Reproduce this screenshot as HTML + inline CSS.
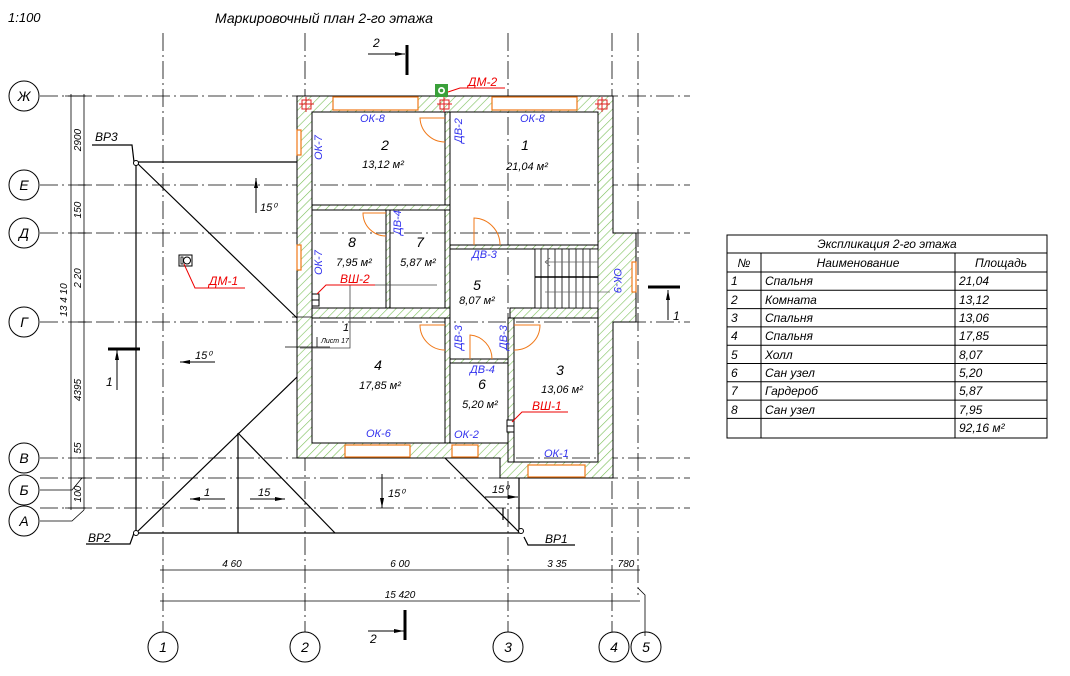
<!DOCTYPE html>
<html><head><meta charset="utf-8"><style>
body{margin:0;background:#fff}
svg{display:block}
text{font-family:"Liberation Sans",sans-serif;font-style:italic}
</style></head><body>
<svg width="1070" height="676" viewBox="0 0 1070 676" xmlns="http://www.w3.org/2000/svg">
<defs>
<pattern id="h" width="6" height="6" patternUnits="userSpaceOnUse" patternTransform="rotate(45)">
<rect width="6" height="6" fill="#fff"/><line x1="0" y1="0" x2="0" y2="6" stroke="#7cc05a" stroke-width="1.2"/></pattern>
<marker id="ar" markerWidth="10" markerHeight="6" refX="10" refY="3" orient="auto" markerUnits="userSpaceOnUse"><path d="M0,1 L10,3 L0,5z" fill="#000"/></marker>
</defs>
<text x="8" y="22" font-size="13">1:100</text>
<text x="215" y="23" font-size="14">Маркировочный план 2-го этажа</text>

<!-- grid lines -->
<g stroke="#000" stroke-width="0.8" stroke-dasharray="18,4,2,4" fill="none">
<line x1="163" y1="33" x2="163" y2="636"/><line x1="305" y1="33" x2="305" y2="636"/>
<line x1="508" y1="33" x2="508" y2="636"/><line x1="612" y1="33" x2="612" y2="636"/>
<line x1="638" y1="33" x2="638" y2="595"/>
<line x1="40" y1="96" x2="690" y2="96"/><line x1="40" y1="185" x2="690" y2="185"/>
<line x1="40" y1="233" x2="690" y2="233"/><line x1="40" y1="322" x2="690" y2="322"/>
<line x1="40" y1="458" x2="690" y2="458"/><line x1="40" y1="478" x2="690" y2="478"/>
<line x1="40" y1="508" x2="690" y2="508"/>
</g>
<!-- bubbles -->
<g fill="#fff" stroke="#000" stroke-width="1">
<circle cx="24" cy="96" r="15"/><circle cx="24" cy="185" r="15"/><circle cx="24" cy="233" r="15"/>
<circle cx="24" cy="322" r="15"/><circle cx="24" cy="458" r="15"/><circle cx="24" cy="490" r="15"/>
<circle cx="24" cy="521" r="15"/>
<circle cx="163" cy="647" r="15"/><circle cx="305" cy="647" r="15"/><circle cx="508" cy="647" r="15"/>
<circle cx="614" cy="647" r="15"/><circle cx="646" cy="647" r="15"/>
</g>
<g font-size="14" text-anchor="middle">
<text x="24" y="101">Ж</text><text x="24" y="190">Е</text><text x="24" y="238">Д</text><text x="24" y="327">Г</text>
<text x="24" y="463">В</text><text x="24" y="495">Б</text><text x="24" y="526">А</text>
<text x="163" y="652">1</text><text x="305" y="652">2</text><text x="508" y="652">3</text><text x="614" y="652">4</text><text x="646" y="652">5</text>
</g>
<g stroke="#000" stroke-width="0.8" fill="none">
<path d="M40,490 L72,490 L82,478"/><path d="M40,521 L72,521 L84,510"/>
<line x1="71" y1="94" x2="71" y2="510"/><line x1="84" y1="94" x2="84" y2="510"/>
<line x1="65" y1="96" x2="90" y2="96"/><line x1="78" y1="185" x2="90" y2="185"/><line x1="78" y1="233" x2="90" y2="233"/>
<line x1="78" y1="322" x2="90" y2="322"/><line x1="78" y1="458" x2="90" y2="458"/><line x1="78" y1="478" x2="90" y2="478"/><line x1="65" y1="508" x2="90" y2="508"/>
<!-- bottom dims -->
<line x1="160" y1="570" x2="640" y2="570"/><line x1="160" y1="601" x2="640" y2="601"/>
<path d="M638,588 L645,595 L645,636"/>
</g>
<g font-size="10" text-anchor="middle">
<text transform="translate(81,140) rotate(-90)">2900</text>
<text transform="translate(81,210) rotate(-90)">150</text>
<text transform="translate(81,278) rotate(-90)">2 20</text>
<text transform="translate(67,300) rotate(-90)">13 4 10</text>
<text transform="translate(81,390) rotate(-90)">4395</text>
<text transform="translate(81,448) rotate(-90)">55</text>
<text transform="translate(81,494) rotate(-90)">100</text>
<text x="232" y="567">4 60</text><text x="400" y="567">6 00</text><text x="557" y="567">3 35</text><text x="626" y="567">780</text>
<text x="400" y="598">15 420</text>
</g>

<!-- roof -->
<g stroke="#000" stroke-width="1.2" fill="none">
<path d="M136,162 L297,162"/><path d="M136,162 L136,533 L520,533"/>
<path d="M136,162 L297,318"/><path d="M136,533 L297,377"/>
<path d="M238,433 L238,533"/><path d="M238,433 L335,533"/><path d="M445,458 L520,533"/>
<path d="M519,478 L519,533"/><path d="M503,508 L503,520"/>
<path d="M92,145 L132,145 L134,162"/><path d="M86,544 L130,544 L134,533"/>
<path d="M524,537 L528,545 L575,545"/>
</g>
<circle cx="136" cy="163" r="2.5" fill="#fff" stroke="#000"/><circle cx="136" cy="533" r="2.5" fill="#fff" stroke="#000"/><circle cx="521" cy="531" r="2.5" fill="#fff" stroke="#000"/>
<g font-size="12"><text x="95" y="141">ВР3</text><text x="88" y="542">ВР2</text><text x="545" y="543">ВР1</text></g>
<!-- slope arrows -->
<g stroke="#000" stroke-width="1" fill="none" marker-end="url(#ar)">
<line x1="256" y1="213" x2="256" y2="178"/>
<line x1="215" y1="362" x2="180" y2="362"/>
<line x1="225" y1="499" x2="190" y2="499"/>
<line x1="250" y1="499" x2="285" y2="499"/>
<line x1="382" y1="474" x2="382" y2="508"/>
<line x1="485" y1="497" x2="518" y2="497"/>
<line x1="117" y1="390" x2="117" y2="350"/>
<line x1="368" y1="54" x2="405" y2="54"/>
<line x1="368" y1="631" x2="404" y2="631"/>
<line x1="668" y1="320" x2="668" y2="290"/>
</g>
<g stroke="#000" stroke-width="3">
<line x1="108" y1="349" x2="140" y2="349"/><line x1="407" y1="45" x2="407" y2="75"/>
<line x1="405" y1="610" x2="405" y2="640"/><line x1="648" y1="287" x2="680" y2="287"/>
</g>
<g font-size="11"><text x="260" y="211">15⁰</text><text x="195" y="359">15⁰</text><text x="204" y="496">1</text><text x="258" y="496">15</text>
<text x="388" y="497">15⁰</text><text x="492" y="493">15⁰</text></g>
<g font-size="12"><text x="106" y="386">1</text><text x="373" y="47">2</text><text x="370" y="643">2</text><text x="673" y="320">1</text></g>
<rect x="179" y="255" width="13" height="11" fill="#fff" stroke="#000"/><circle cx="187" cy="260.5" r="3.5" fill="none" stroke="#000"/><rect x="181" y="257" width="2" height="7" fill="none" stroke="#000" stroke-width="0.8"/>

<!-- building walls -->
<g stroke="#000" stroke-width="1">
<path fill="url(#h)" fill-rule="evenodd" d="M297,96 L613,96 L613,233 L636,233 L636,322 L613,322 L613,478 L500,478 L500,458 L297,458 Z
M312,112 L598,112 L598,249 L535,249 L535,308 L598,308 L598,462 L514,462 L514,443 L312,443 Z"/>
<!-- interior walls -->
<rect x="445" y="112" width="5" height="98" fill="url(#h)"/>
<rect x="312" y="205" width="138" height="5" fill="url(#h)"/>
<rect x="386" y="210" width="4" height="98" fill="url(#h)"/>
<rect x="445" y="210" width="5" height="100" fill="url(#h)"/>
<rect x="450" y="245" width="148" height="4" fill="url(#h)"/>
<rect x="312" y="308" width="138" height="10" fill="url(#h)"/>
<rect x="510" y="308" width="88" height="10" fill="url(#h)"/>
<rect x="445" y="318" width="5" height="125" fill="url(#h)"/>
<rect x="450" y="359" width="60" height="4" fill="url(#h)"/>
<rect x="508" y="318" width="6" height="144" fill="url(#h)"/>
</g>
<!-- stairs -->
<g stroke="#000" stroke-width="0.8" fill="none">
<rect x="535" y="249" width="63" height="59" fill="#fff"/>
<line x1="535" y1="277" x2="598" y2="277" stroke-width="1.5"/>
<path d="M541,249 V308 M548,249 V277 M555,249 V277 M562,249 V277 M569,249 V277 M576,249 V277 M583,249 V277 M590,249 V277 M548,277 V308 M555,277 V308 M562,277 V308 M569,277 V308 M576,277 V308 M583,277 V308 M590,277 V308"/>
<path d="M545,262 H598 M545,262 L550,258 M545,262 L550,266" stroke="#666"/>
<path d="M545,292 H610" stroke="#666"/>
<path d="M350,285 L350,348 L300,348 M350,285 L437,285" stroke="#444"/>
<path d="M292,317 L312,317 M285,347 L330,347 M317,337 L317,347"/>
</g>
<!-- windows -->
<g fill="#fff" stroke="#f07818" stroke-width="1.2">
<rect x="333" y="97" width="85" height="13"/><rect x="492" y="97" width="85" height="13"/>
<rect x="297" y="130" width="4" height="25"/><rect x="297" y="245" width="4" height="25"/>
<rect x="345" y="445" width="65" height="12"/><rect x="452" y="445" width="26" height="12"/>
<rect x="528" y="465" width="57" height="12"/><rect x="632" y="262" width="4" height="30"/>
</g>
<!-- columns -->
<g stroke="#e02020" stroke-width="1" fill="none">
<rect x="302" y="100" width="9" height="9"/><path d="M306,97 V112 M299,104 H314"/>
<rect x="440" y="100" width="9" height="9"/><path d="M444,97 V112 M437,104 H452"/>
<rect x="598" y="100" width="9" height="9"/><path d="M602,97 V112 M595,104 H610"/>
</g>
<!-- doors -->
<g stroke="#f07818" stroke-width="1" fill="none">
<path d="M445,142 L420,118 A32,32 0 0 1 445,142 Z" stroke="none"/>
<path d="M445,118 L420,118 A25,25 0 0 0 445,142"/>
<path d="M386,213 L363,213 A23,23 0 0 0 386,236"/>
<path d="M474,245 L474,218 A27,27 0 0 1 500,245"/>
<path d="M445,325 L420,325 A25,25 0 0 0 445,350"/>
<path d="M470,359 L470,335 A24,24 0 0 1 492,359"/>
<path d="M514,325 L540,325 A25,25 0 0 1 514,350"/>
</g>
<!-- specials -->
<rect x="312" y="294" width="7" height="12" fill="#fff" stroke="#000"/><line x1="312" y1="300" x2="319" y2="300" stroke="#000"/>
<rect x="507" y="420" width="7" height="12" fill="#fff" stroke="#000"/><line x1="507" y1="426" x2="514" y2="426" stroke="#000"/>
<rect x="435" y="84" width="13" height="13" fill="#3aa03a"/><circle cx="441.5" cy="90.5" r="3.5" fill="#fff"/><circle cx="441.5" cy="90.5" r="1.8" fill="#3aa03a"/>
<g stroke="#e00" stroke-width="1" fill="none">
<path d="M317,294 L326,285 L375,285"/><path d="M512,422 L522,412 L568,412"/>
<path d="M184,264 L195,288 L245,288"/><path d="M448,92 L460,88 L505,88"/>
</g>
<g fill="#e00" font-size="12"><text x="340" y="283">ВШ-2</text><text x="532" y="410">ВШ-1</text><text x="209" y="285">ДМ-1</text><text x="468" y="86">ДМ-2</text></g>
<!-- blue labels -->
<g fill="#3333ee" font-size="11">
<text x="360" y="122">ОК-8</text><text x="520" y="122">ОК-8</text>
<text transform="translate(322,160) rotate(-90)">ОК-7</text><text transform="translate(322,275) rotate(-90)">ОК-7</text>
<text transform="translate(462,143) rotate(-90)">ДВ-2</text><text transform="translate(401,235) rotate(-90)">ДВ-4</text>
<text x="472" y="258">ДВ-3</text><text transform="translate(462,350) rotate(-90)">ДВ-3</text>
<text x="470" y="373">ДВ-4</text><text transform="translate(507,350) rotate(-90)">ДВ-3</text>
<text transform="translate(614,268) rotate(90)">ОК-9</text>
<text x="366" y="437">ОК-6</text><text x="454" y="438">ОК-2</text><text x="544" y="457">ОК-1</text>
</g>
<!-- room labels -->
<g font-size="14" text-anchor="middle">
<text x="385" y="150">2</text><text x="525" y="150">1</text><text x="352" y="247">8</text><text x="420" y="247">7</text>
<text x="477" y="290">5</text><text x="378" y="370">4</text><text x="482" y="389">6</text><text x="560" y="375">3</text>
</g>
<g font-size="11" text-anchor="middle">
<text x="383" y="168">13,12 м²</text><text x="527" y="170">21,04 м²</text><text x="354" y="266">7,95 м²</text>
<text x="418" y="266">5,87 м²</text><text x="477" y="304">8,07 м²</text><text x="380" y="389">17,85 м²</text>
<text x="480" y="408">5,20 м²</text><text x="562" y="393">13,06 м²</text>
<text x="346" y="331">1</text><text x="335" y="343" font-size="7">Лист 17</text>
</g>

<!-- table -->
<g stroke="#000" stroke-width="1" fill="none">
<rect x="727" y="235" width="320" height="203"/>
<line x1="727" y1="253" x2="1047" y2="253"/><line x1="727" y1="272" x2="1047" y2="272"/>
<line x1="727" y1="290.3" x2="1047" y2="290.3"/><line x1="727" y1="308.6" x2="1047" y2="308.6"/>
<line x1="727" y1="326.9" x2="1047" y2="326.9"/><line x1="727" y1="345.2" x2="1047" y2="345.2"/>
<line x1="727" y1="363.5" x2="1047" y2="363.5"/><line x1="727" y1="381.8" x2="1047" y2="381.8"/>
<line x1="727" y1="400.1" x2="1047" y2="400.1"/><line x1="727" y1="418.4" x2="1047" y2="418.4"/>
<line x1="761" y1="253" x2="761" y2="438"/><line x1="955" y1="253" x2="955" y2="438"/>
</g>
<g font-size="12">
<text x="887" y="248" text-anchor="middle">Экспликация 2-го этажа</text>
<text x="744" y="267" text-anchor="middle">№</text><text x="858" y="267" text-anchor="middle">Наименование</text><text x="1001" y="267" text-anchor="middle">Площадь</text>
<text x="731" y="285">1</text><text x="765" y="285">Спальня</text><text x="959" y="285">21,04</text>
<text x="731" y="304">2</text><text x="765" y="304">Комната</text><text x="959" y="304">13,12</text>
<text x="731" y="322">3</text><text x="765" y="322">Спальня</text><text x="959" y="322">13,06</text>
<text x="731" y="340">4</text><text x="765" y="340">Спальня</text><text x="959" y="340">17,85</text>
<text x="731" y="359">5</text><text x="765" y="359">Холл</text><text x="959" y="359">8,07</text>
<text x="731" y="377">6</text><text x="765" y="377">Сан узел</text><text x="959" y="377">5,20</text>
<text x="731" y="395">7</text><text x="765" y="395">Гардероб</text><text x="959" y="395">5,87</text>
<text x="731" y="414">8</text><text x="765" y="414">Сан узел</text><text x="959" y="414">7,95</text>
<text x="959" y="432">92,16 м²</text>
</g>
</svg>
</body></html>
